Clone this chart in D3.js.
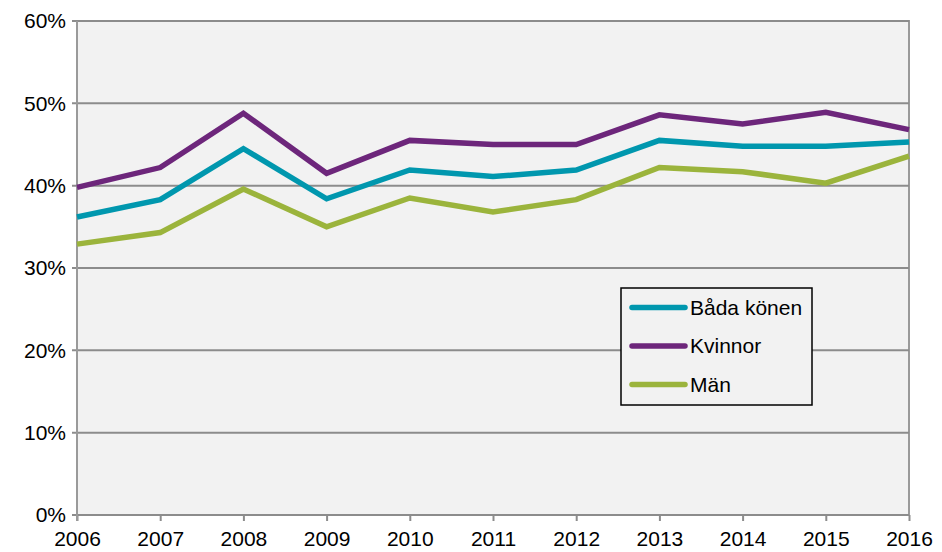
<!DOCTYPE html>
<html>
<head>
<meta charset="utf-8">
<script src="https://cdn.jsdelivr.net/npm/d3@7"></script>
<style>
  body { margin: 0; background: #fff; }
  text { font-family: "Liberation Sans", Arial, sans-serif; }
</style>
</head>
<body>
<svg id="chart" width="942" height="552"></svg>
<script>
// data
var years = [2006, 2007, 2008, 2009, 2010, 2011, 2012, 2013, 2014, 2015, 2016];
var seriesNames = ["Båda könen", "Kvinnor", "Män"];
var badaKonen = [36.2, 38.3, 44.5, 38.4, 41.9, 41.1, 41.9, 45.5, 44.8, 44.8, 45.3];
var kvinnor   = [39.8, 42.2, 48.8, 41.5, 45.5, 45.0, 45.0, 48.6, 47.5, 48.9, 46.8];
var man       = [32.9, 34.3, 39.6, 35.0, 38.5, 36.8, 38.3, 42.2, 41.7, 40.3, 43.6];
var yTicks = [0, 10, 20, 30, 40, 50, 60];
var colors = ["#0097ae", "#6d267b", "#9bb43c"];

var series = [badaKonen, kvinnor, man];

var svg = d3.select("#chart");
var pLeft = 77, pRight = 909, pTop = 21, pBottom = 515;

var x = d3.scalePoint().domain(years).range([pLeft, pRight]);
var y = d3.scaleLinear().domain([0, 60]).range([pBottom, pTop]);

// plot background
svg.append("rect")
   .attr("x", pLeft).attr("y", pTop)
   .attr("width", pRight - pLeft).attr("height", pBottom - pTop)
   .attr("fill", "#f2f2f2")
   .attr("stroke", "#9a9a9a")
   .attr("stroke-width", 2);

// gridlines
svg.append("g").selectAll("line")
   .data(yTicks)
   .enter().append("line")
   .attr("x1", pLeft - 5).attr("x2", pRight)
   .attr("y1", function(d){ return y(d); })
   .attr("y2", function(d){ return y(d); })
   .attr("stroke", "#8c8c8c")
   .attr("stroke-width", 2);

// y axis
var yAxis = d3.axisLeft(y).tickValues(yTicks)
    .tickSize(0).tickPadding(11)
    .tickFormat(function(d){ return d + "%"; });
var gy = svg.append("g").attr("transform", "translate(" + pLeft + ",0)").call(yAxis);
gy.select(".domain").remove();
gy.selectAll("text").style("font-size", "21px").attr("fill", "#000");

// x axis
var xAxis = d3.axisBottom(x).tickSize(6).tickPadding(10);
var gx = svg.append("g").attr("transform", "translate(0," + pBottom + ")").call(xAxis);
gx.select(".domain").remove();
gx.selectAll("line").attr("stroke", "#8c8c8c").attr("stroke-width", 2);
gx.selectAll("text").style("font-size", "21px").attr("fill", "#000");

// left axis line
svg.append("line")
   .attr("x1", pLeft).attr("x2", pLeft)
   .attr("y1", pTop).attr("y2", pBottom + 6)
   .attr("stroke", "#9a9a9a").attr("stroke-width", 2);

// lines
var line = d3.line()
    .x(function(d, i){ return x(years[i]); })
    .y(function(d){ return y(d); });

svg.append("g").selectAll("path")
   .data(series)
   .enter().append("path")
   .attr("d", line)
   .attr("fill", "none")
   .attr("stroke", function(d, i){ return colors[i]; })
   .attr("stroke-width", 5.5)
   .attr("stroke-linejoin", "miter");

// legend
var lg = svg.append("g");
lg.append("rect")
  .attr("x", 621).attr("y", 288)
  .attr("width", 191).attr("height", 117)
  .attr("fill", "#f2f2f2")
  .attr("stroke", "#000").attr("stroke-width", 1.5);

seriesNames.forEach(function(n, i){
    var ly = 307.5 + i * 38.5;
    lg.append("line")
      .attr("x1", 632).attr("x2", 685)
      .attr("y1", ly).attr("y2", ly)
      .attr("stroke", colors[i]).attr("stroke-width", 5.5)
      .attr("stroke-linecap", "round");
    lg.append("text")
      .attr("x", 690).attr("y", ly)
      .attr("dy", ".35em")
      .style("font-size", "21px")
      .text(n);
});
</script>
</body>
</html>
